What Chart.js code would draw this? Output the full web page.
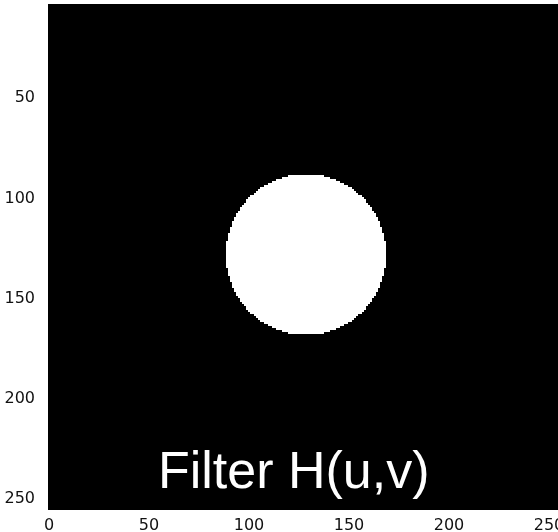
<!DOCTYPE html>
<html>
<head>
<meta charset="utf-8">
<script src="https://cdn.jsdelivr.net/npm/chart.js@4"></script>
<style>
  html, body { margin: 0; padding: 0; background: #fff; }
  #wrap { width: 558px; height: 532px; }
</style>
</head>
<body>
<div id="wrap"><canvas id="filterChart"></canvas></div>
<script>
// Ideal low-pass filter H(u,v) on a 256 x 256 grid
const imageSize = [256, 256];
const filterCenter = [128.5, 128]; // (u0, v0)
const cutoffRadius = [40];         // D0
const xTicks = [0, 50, 100, 150, 200, 250];
const yTicks = [50, 100, 150, 200, 250];
const xView = [-0.5, 254.5];
const yView = [3, 255.5];
const filterLabel = 'Filter H(u,v)';

// H = 1 strictly inside the cutoff circle, 0 elsewhere
function buildMask() {
    const cells = [];
    for (let v = 0; v < imageSize[0]; v++) {
        for (let u = 0; u < imageSize[1]; u++) {
            const d = Math.hypot(u - filterCenter[0], v - filterCenter[1]);
            cells.push({ x: u, y: v, h: d < cutoffRadius[0] ? 1 : 0 });
        }
    }
    return cells;
}

// Paint each cell as a grey level, edges snapped to whole pixels
const cellPlugin = {
    id: 'cells',
    beforeDatasetsDraw(chart) {
        const { ctx, chartArea, scales } = chart;
        const data = chart.data.datasets[0].data;
        ctx.save();
        ctx.beginPath();
        ctx.rect(chartArea.left, chartArea.top, chartArea.right - chartArea.left, chartArea.bottom - chartArea.top);
        ctx.clip();
        data.forEach(c => {
            const x0 = Math.round(scales.x.getPixelForValue(c.x - 0.5));
            const x1 = Math.round(scales.x.getPixelForValue(c.x + 0.5));
            const y0 = Math.round(scales.y.getPixelForValue(c.y - 0.5));
            const y1 = Math.round(scales.y.getPixelForValue(c.y + 0.5));
            const g = Math.round(255 * c.h);
            ctx.fillStyle = 'rgb(' + g + ',' + g + ',' + g + ')';
            ctx.fillRect(x0, Math.min(y0, y1), x1 - x0, Math.abs(y1 - y0));
        });
        ctx.restore();
    },
    afterDatasetsDraw(chart) {
        const { ctx, chartArea } = chart;
        ctx.save();
        ctx.fillStyle = '#fff';
        ctx.font = '52px "Liberation Sans", Arial, sans-serif';
        ctx.textAlign = 'left';
        ctx.textBaseline = 'alphabetic';
        ctx.fillText(filterLabel, chartArea.left + 110, chartArea.bottom - 22);
        ctx.restore();
    }
};

const tickFont = { family: 'DejaVu Sans', size: 16 };

window.addEventListener('load', () => {
    const ctx = document.getElementById('filterChart').getContext('2d');
    new Chart(ctx, {
        type: 'scatter',
        data: {
            datasets: [{
                data: buildMask(),
                pointRadius: 0,
                pointHoverRadius: 0
            }]
        },
        options: {
            responsive: true,
            maintainAspectRatio: false,
            animation: false,
            events: [],
            layout: { padding: { top: 4, right: 0, left: 0, bottom: 0 } },
            plugins: { legend: { display: false }, tooltip: { enabled: false } },
            scales: {
                x: {
                    type: 'linear',
                    min: xView[0],
                    max: xView[1],
                    grid: { display: false },
                    border: { display: false },
                    ticks: { color: '#111', font: tickFont, padding: -2, maxRotation: 0, autoSkip: false },
                    afterBuildTicks: s => { s.ticks = xTicks.map(v => ({ value: v })); },
                    afterFit: s => {
                        s.height = 22;
                        s.paddingLeft = 0;
                        s.paddingRight = 0;
                    }
                },
                y: {
                    type: 'linear',
                    reverse: true,
                    min: yView[0],
                    max: yView[1],
                    grid: { display: false },
                    border: { display: false },
                    ticks: { color: '#111', font: tickFont, padding: 5, autoSkip: false },
                    afterBuildTicks: s => { s.ticks = yTicks.map(v => ({ value: v })); },
                    afterFit: s => {
                        s.width = 48;
                        s.paddingTop = 0;
                        s.paddingBottom = 0;
                    }
                }
            }
        },
        plugins: [cellPlugin]
    });
});
</script>
</body>
</html>
